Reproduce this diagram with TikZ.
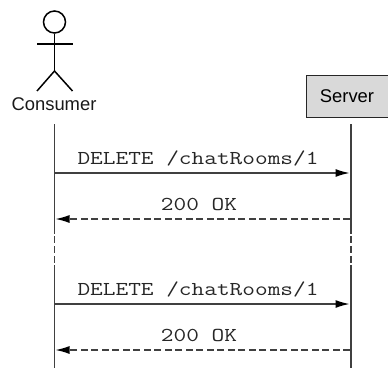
\documentclass[tikz,border=0pt]{standalone}
\usepackage{fontspec}
\setmainfont{Liberation Sans}
\setmonofont[FakeStretch=1.25]{Latin Modern Mono}
\usepackage{tikz}
\usetikzlibrary{arrows.meta}
\definecolor{linegray}{gray}{0.25}
\tikzstyle{seq}=[x=1pt,y=-1pt,draw=linegray]
\tikzstyle{stick}=[line width=1.5pt,draw=black]
\tikzstyle{life}=[line width=1.2pt,draw=linegray]
\tikzstyle{lifegap}=[life,dash pattern=on 7pt off 3pt]
\tikzstyle{head}=[circle,inner sep=0pt,minimum size=22pt,line width=1.5pt,draw=black]
\tikzstyle{actor}=[inner sep=0pt,font=\fontsize{18.4}{20}\selectfont,text=black!90]
\tikzstyle{box}=[rectangle,inner sep=0pt,minimum width=82pt,minimum height=42pt,line width=1pt,draw=black!85,fill=black!15,font=\fontsize{18.4}{20}\selectfont]
\tikzstyle{msg}=[inner sep=0pt,font=\ttfamily\fontsize{19.7}{22}\selectfont,text=black!85]
\tikzstyle{call}=[line width=1.3pt,draw=linegray,-{Latex[length=14pt,width=8pt,black]}]
\tikzstyle{reply}=[call,dash pattern=on 7pt off 3.5pt]
\begin{document}
\begin{tikzpicture}[seq]
				\useasboundingbox (0,0) rectangle (388,369);
				
				%The actor
				\draw (54.5,22) node[head] (head) {};
				\coordinate (neck) at (54.5,33);
				\coordinate (hip) at (54.5,71);
				\coordinate (armL) at (37,44);
				\coordinate (armR) at (72.5,44);
				\coordinate (legL) at (37,91);
				\coordinate (legR) at (72.5,91);
				\draw (54,104) node[actor] (consumer) {Consumer};
				\draw[stick] (head) -- (hip);
				\draw[stick] (armL) -- (armR);
				\draw[stick] (legL) -- (hip) -- (legR);
				
				%The server
				\draw (347,96) node[box] (server) {Server};
				
				%The lifelines
				\coordinate (c0) at (54.5,124);
				\coordinate (c1) at (54.5,234);
				\coordinate (c2) at (54.5,236);
				\coordinate (c3) at (54.5,265);
				\coordinate (c4) at (54.5,368);
				\coordinate (s0) at (351,124);
				\coordinate (s1) at (351,234);
				\coordinate (s2) at (351,236);
				\coordinate (s3) at (351,265);
				\coordinate (s4) at (351,368);
				\draw[life] (c0) -- (c1);
				\draw[lifegap] (c2) -- (c3);
				\draw[life] (c3) -- (c4);
				\draw[life] (s0) -- (s1);
				\draw[lifegap] (s2) -- (s3);
				\draw[life] (s3) -- (s4);
				
				%The messages
				\coordinate (a1) at (55,173);
				\coordinate (b1) at (349.5,173);
				\coordinate (a2) at (55.5,219);
				\coordinate (b2) at (350,219);
				\coordinate (a3) at (55,304);
				\coordinate (b3) at (349.5,304);
				\coordinate (a4) at (55.5,350);
				\coordinate (b4) at (350,350);
				\draw[call] (a1) -- (b1);
				\draw[reply] (b2) -- (a2);
				\draw[call] (a3) -- (b3);
				\draw[reply] (b4) -- (a4);
				
				\draw (198,158) node[msg] (del1) {DELETE /chatRooms/1};
				\draw (199,204) node[msg] (ok1) {200 OK};
				\draw (198,289) node[msg] (del2) {DELETE /chatRooms/1};
				\draw (199,335) node[msg] (ok2) {200 OK};
			\end{tikzpicture}
\end{document}
